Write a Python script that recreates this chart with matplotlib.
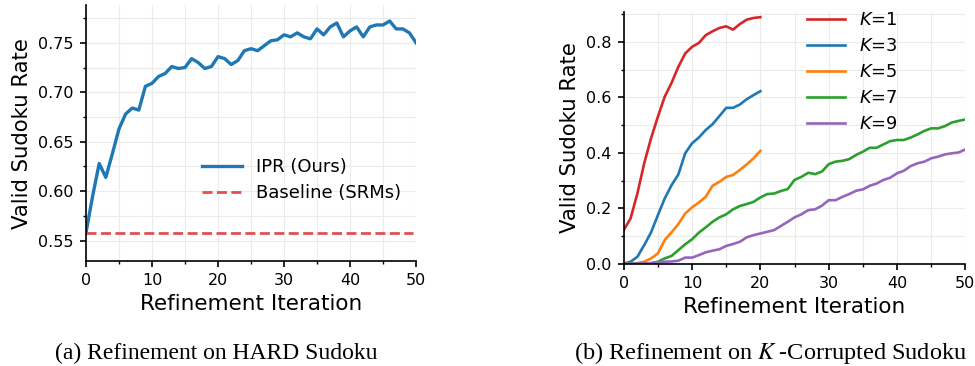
import numpy as np
import matplotlib
matplotlib.use('Agg')
import matplotlib.pyplot as plt
from matplotlib.ticker import MultipleLocator

# (a) HARD Sudoku
iters_a = np.arange(51)
ipr = [0.558, 0.595, 0.628, 0.614, 0.638, 0.663, 0.678, 0.684, 0.682, 0.706,
       0.709, 0.716, 0.719, 0.726, 0.724, 0.725, 0.734, 0.730, 0.724, 0.726,
       0.736, 0.734, 0.728, 0.732, 0.742, 0.744, 0.742, 0.747, 0.752, 0.753,
       0.758, 0.756, 0.760, 0.756, 0.754, 0.764, 0.758, 0.766, 0.770, 0.756,
       0.762, 0.766, 0.756, 0.766, 0.768, 0.768, 0.772, 0.764, 0.764, 0.760,
       0.750]
baseline = 0.558

# (b) K-corrupted Sudoku
iters_short = np.arange(21)
iters_long = np.arange(51)
k1 = [0.121, 0.163, 0.253, 0.362, 0.452, 0.530, 0.602, 0.652, 0.710, 0.758,
      0.782, 0.796, 0.824, 0.838, 0.850, 0.856, 0.844, 0.864, 0.880, 0.886,
      0.889]
k3 = [0.000, 0.007, 0.025, 0.067, 0.113, 0.175, 0.235, 0.283, 0.322, 0.398,
      0.434, 0.455, 0.482, 0.503, 0.532, 0.562, 0.562, 0.574, 0.593, 0.608,
      0.622]
k5 = [0.000, 0.000, 0.002, 0.007, 0.019, 0.037, 0.085, 0.113, 0.143, 0.181,
      0.203, 0.221, 0.241, 0.281, 0.295, 0.313, 0.320, 0.338, 0.358, 0.380,
      0.407]
k7 = [0.000, 0.000, 0.000, 0.000, 0.002, 0.007, 0.019, 0.028, 0.049, 0.070,
      0.088, 0.112, 0.131, 0.151, 0.167, 0.178, 0.196, 0.208, 0.215, 0.223,
      0.239, 0.251, 0.253, 0.262, 0.269, 0.302, 0.313, 0.328, 0.323, 0.332,
      0.359, 0.368, 0.371, 0.377, 0.392, 0.404, 0.418, 0.418, 0.430, 0.442,
      0.446, 0.446, 0.455, 0.466, 0.479, 0.488, 0.488, 0.496, 0.509, 0.515,
      0.520]
k9 = [0.000, 0.000, 0.000, 0.000, 0.002, 0.005, 0.007, 0.008, 0.011, 0.022,
      0.022, 0.031, 0.041, 0.047, 0.052, 0.064, 0.071, 0.079, 0.095, 0.103,
      0.109, 0.115, 0.121, 0.136, 0.151, 0.167, 0.178, 0.193, 0.196, 0.209,
      0.229, 0.229, 0.241, 0.251, 0.263, 0.268, 0.281, 0.289, 0.302, 0.310,
      0.326, 0.335, 0.352, 0.362, 0.368, 0.380, 0.386, 0.394, 0.398, 0.401,
      0.412]

fig = plt.figure(figsize=(9.75, 3.66), dpi=100)
ax1 = fig.add_axes([0.0882, 0.2869, 0.3385, 0.699])
ax2 = fig.add_axes([0.6397, 0.2795, 0.3504, 0.688])


def style_axis(ax):
    for s in ['top', 'right']:
        ax.spines[s].set_visible(False)
    ax.spines['left'].set_linewidth(1.2)
    ax.spines['bottom'].set_linewidth(1.2)
    ax.grid(True, which='both', color='#ebebeb', linewidth=0.8)
    ax.set_axisbelow(True)
    ax.tick_params(which='major', labelsize=11.5, length=4, width=1.2, pad=5)
    ax.tick_params(which='minor', length=2.5, width=1.0)
    ax.xaxis.set_major_locator(MultipleLocator(10))
    ax.xaxis.set_minor_locator(MultipleLocator(5))


# (a)
ax1.plot(iters_a, ipr, color='#1f77b4', lw=2.4, label='IPR (Ours)')
ax1.axhline(baseline, xmin=0, xmax=0.99, color='#de5253', lw=2,
            ls=(0, (3.6, 1.6)), label='Baseline (SRMs)')
style_axis(ax1)
ax1.set_xlim(0, 50)
ax1.set_ylim(0.5295, 0.788)
ax1.yaxis.set_major_locator(MultipleLocator(0.05))
ax1.yaxis.set_minor_locator(MultipleLocator(0.025))
ax1.set_xlabel('Refinement Iteration', fontsize=15.5)
ax1.set_ylabel('Valid Sudoku Rate', fontsize=15.3)
ax1.legend(loc='upper left', bbox_to_anchor=(0.33, 0.43), frameon=False,
           fontsize=13, handlelength=2.2, handletextpad=0.8,
           labelspacing=0.45, borderaxespad=0)

# (b)
ax2.plot(iters_short, k1, color='#d62728', lw=1.9, label='$K$=1')
ax2.plot(iters_short, k3, color='#1f77b4', lw=1.9, label='$K$=3')
ax2.plot(iters_short, k5, color='#ff7f0e', lw=1.9, label='$K$=5')
ax2.plot(iters_long, k7, color='#2ca02c', lw=1.9, label='$K$=7')
ax2.plot(iters_long, k9, color='#9467bd', lw=1.9, label='$K$=9')
style_axis(ax2)
ax2.set_xlim(0, 50)
ax2.set_ylim(0, 0.908)
ax2.yaxis.set_major_locator(MultipleLocator(0.2))
ax2.yaxis.set_minor_locator(MultipleLocator(0.1))
ax2.set_xlabel('Refinement Iteration', fontsize=15.5)
ax2.set_ylabel('Valid Sudoku Rate', fontsize=15.3)
ax2.legend(loc='upper left', bbox_to_anchor=(0.516, 1.031), frameon=False,
           fontsize=12.8, handlelength=2.15, handletextpad=0.75,
           labelspacing=0.45, borderaxespad=0)

# captions
fig.text(0.222, 0.018, '(a) Refinement on HARD Sudoku', ha='center',
         va='baseline', fontsize=17, family='Liberation Serif')
fig.text(0.79, 0.018, '(b) Refinement on $K$\u2009-Corrupted Sudoku',
         ha='center', va='baseline', fontsize=17.5,
         family='Liberation Serif', math_fontfamily='stix')

fig.savefig('out.png', dpi=100)
